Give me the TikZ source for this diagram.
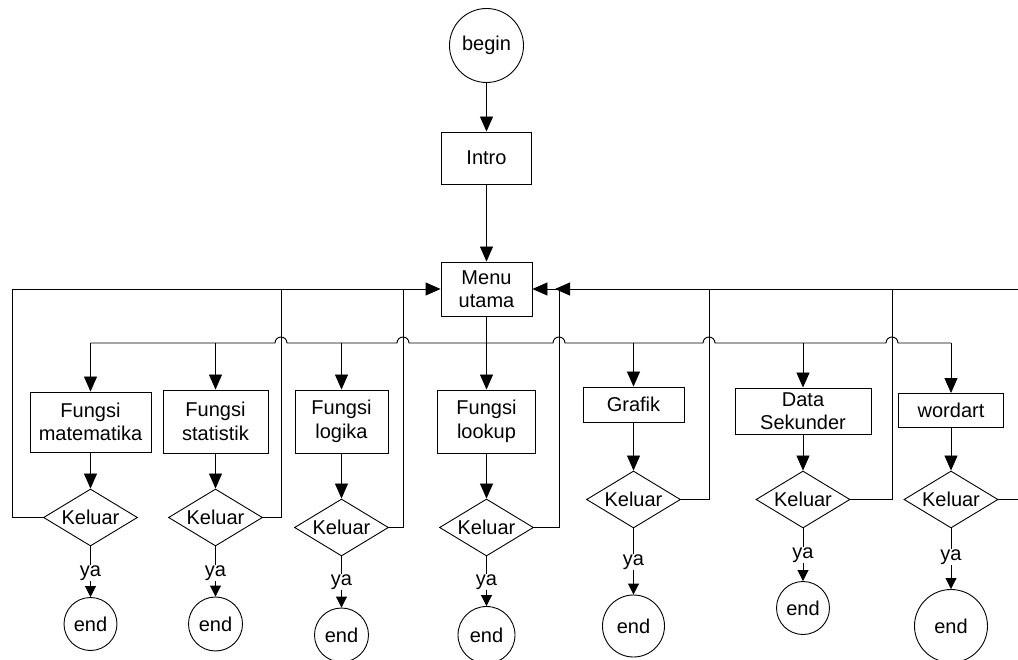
\documentclass[tikz,border=0pt]{standalone}
\usepackage{fontspec}
\setmainfont{Liberation Sans}
\usetikzlibrary{shapes.geometric,arrows.meta,calc}
\begin{document}
\begin{tikzpicture}[x=1pt,y=-1pt,line width=0.9pt,
  font=\fontsize{20}{23.5}\selectfont,
  box/.style={draw,rectangle,inner sep=0pt,align=center},
  dec/.style={draw,diamond,aspect=1.63,inner sep=0pt,minimum width=94pt,minimum height=57pt},
  term/.style={draw,circle,inner sep=0pt},
  arr/.style={-{Triangle[length=15pt,width=13pt]}},
  sarr/.style={-{Triangle[length=11pt,width=11pt]}},
  yal/.style={fill=white,inner sep=1pt}]
\useasboundingbox[fill=white] (0,0) rectangle (1018,660);

% top
\node[term,minimum size=74pt] (begin) at (486.5,45.5) {begin};
\node[box,minimum width=90pt,minimum height=52pt] (intro) at (486.5,158) {Intro};
\node[box,minimum width=91pt,minimum height=54pt] (menu) at (486.5,289) {Menu\\utama};

% process boxes
\node[box,minimum width=121pt,minimum height=60pt] (f1) at (90.5,422) {Fungsi\\matematika};
\node[box,minimum width=105pt,minimum height=63pt] (f2) at (215.5,421.5) {Fungsi\\statistik};
\node[box,minimum width=93pt,minimum height=63pt] (f3) at (341.5,421.5) {Fungsi\\logika};
\node[box,minimum width=98pt,minimum height=63pt] (f4) at (486.5,421.5) {Fungsi\\lookup};
\node[box,minimum width=101pt,minimum height=35pt] (f5) at (633.5,404.5) {Grafik};
\node[box,minimum width=136pt,minimum height=46pt] (f6) at (803,411) {Data\\Sekunder};
\node[box,minimum width=105pt,minimum height=34pt] (f7) at (951,410.5) {wordart};

% decisions
\node[dec] (d1) at (90.5,517.5) {Keluar};
\node[dec] (d2) at (215.5,517.5) {Keluar};
\node[dec] (d3) at (341.5,527.5) {Keluar};
\node[dec] (d4) at (486.5,527.5) {Keluar};
\node[dec] (d5) at (633.5,499.5) {Keluar};
\node[dec] (d6) at (803,499.5) {Keluar};
\node[dec] (d7) at (951,499.5) {Keluar};

% end terminals
\node[term,minimum size=53pt] (e1) at (90.5,624) {end};
\node[term,minimum size=54pt] (e2) at (215.5,624) {end};
\node[term,minimum size=54pt] (e3) at (341.5,635) {end};
\node[term,minimum size=57pt] (e4) at (486.5,635) {end};
\node[term,minimum size=62pt] (e5) at (633.5,626) {end};
\node[term,minimum size=53pt] (e6) at (803,608) {end};
\node[term,minimum size=73pt] (e7) at (951,626) {end};

% coordinates
\coordinate (bus) at (0,343);
\coordinate (r1) at (12,289);
\coordinate (r2) at (281,289);
\coordinate (r3) at (403,289);
\coordinate (r4) at (559,289);
\coordinate (r4tip) at (555,289);
\coordinate (r5) at (709,289);
\coordinate (r6) at (892,289);
\coordinate (rtop) at (1018,289);
\coordinate (r7) at (1018,499.5);

% main flow
\draw[arr] (begin) -- (intro);
\draw[arr] (intro) -- (menu);
\draw[arr] (menu) -- (f4);

% distribution bus with jumps
\draw (f1.north |- bus)
  -- ($(r2 |- bus)+(-6,0)$) arc[start angle=180,end angle=0,radius=6pt]
  -- ($(r3 |- bus)+(-6,0)$) arc[start angle=180,end angle=0,radius=6pt]
  -- ($(r4 |- bus)+(-6,0)$) arc[start angle=180,end angle=0,radius=6pt]
  -- ($(r5 |- bus)+(-6,0)$) arc[start angle=180,end angle=0,radius=6pt]
  -- ($(r6 |- bus)+(-6,0)$) arc[start angle=180,end angle=0,radius=6pt]
  -- (f7.north |- bus);
\foreach \n in {1,2,3,5,6,7}{
  \draw[arr] (f\n.north |- bus) -- (f\n.north);
}

% box -> decision -> end
\foreach \n in {1,...,7}{
  \draw[arr] (f\n) -- (d\n);
  \draw[sarr] (d\n.south) -- (e\n.north);
}
\node[yal] (y1) at (90.5,573) {ya};
\node[yal] (y2) at (215.5,573) {ya};
\node[yal] (y3) at (341.5,582) {ya};
\node[yal] (y4) at (486.5,582) {ya};
\node[yal] (y5) at (633.5,562) {ya};
\node[yal] (y6) at (803,555) {ya};
\node[yal] (y7) at (951,557) {ya};

% return lines
\draw (d1.west) -| (r1);
\draw[arr] (r1) -- (menu.west);
\draw (d2.east) -| (r2);
\draw (d3.east) -| (r3);
\draw (d4.east) -| (r4);
\draw[arr] (r4) -- (menu.east);
\draw (d5.east) -| (r5);
\draw (d6.east) -| (r6);
\draw (d7.east) -- (r7);
\draw[arr] (rtop) -- (r4tip);
\end{tikzpicture}
\end{document}
